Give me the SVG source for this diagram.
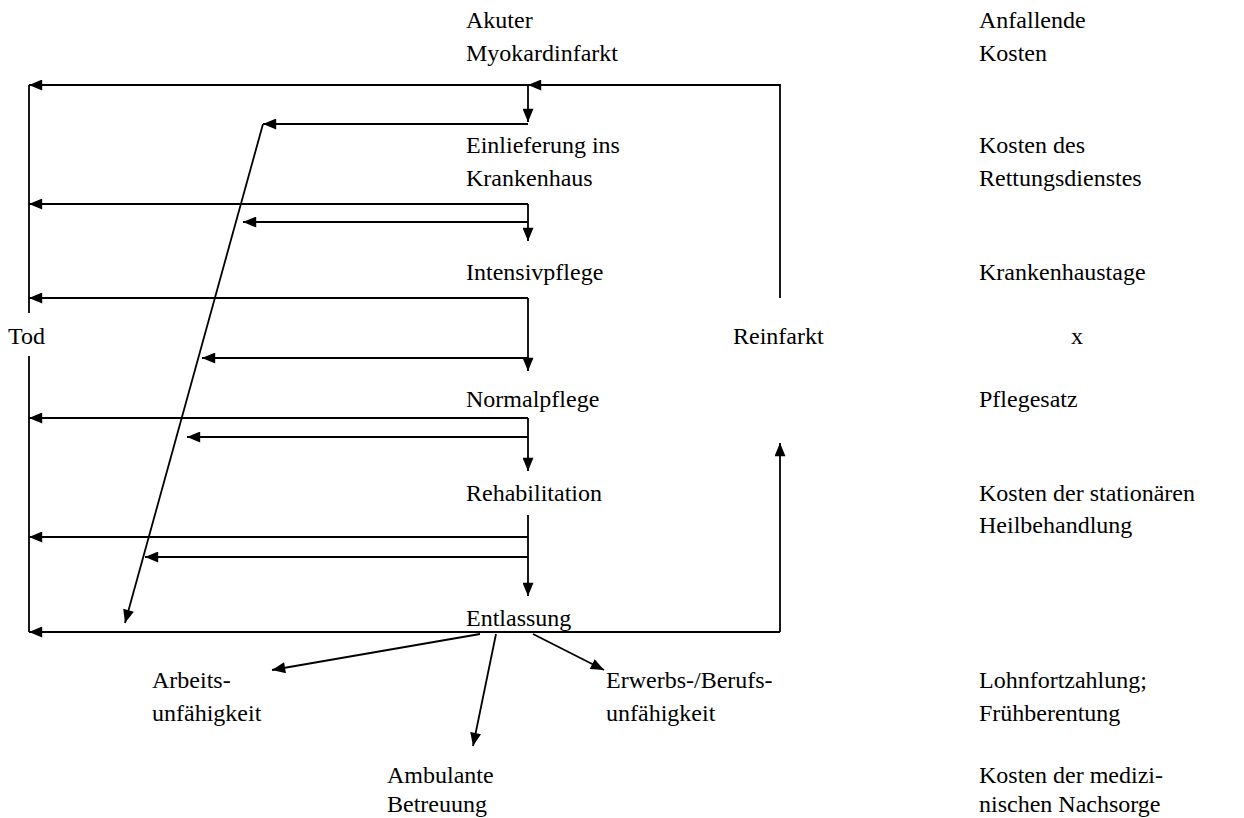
<svg xmlns="http://www.w3.org/2000/svg" width="1244" height="818" viewBox="0 0 1244 818">
<style>
.t{font-family:'Liberation Serif','Times New Roman',Times,serif;font-size:24px;fill:#000}
.c{stroke:#000;stroke-width:1.8;fill:none}
</style>
<defs>
<marker id="a" viewBox="0 0 12 10" refX="12" refY="5" markerWidth="14" markerHeight="11" markerUnits="userSpaceOnUse" orient="auto"><path d="M0,0L12,5L0,10z" fill="#000"/></marker>
</defs>
<rect width="1244" height="818" fill="#fff"/>
<g id="connectors">
<path class="c" d="M29,85V313"/>
<path class="c" d="M29,356V632"/>
<path class="c" d="M528,85H29" marker-end="url(#a)"/>
<path class="c" d="M780,298V85H528" marker-end="url(#a)"/>
<path class="c" d="M528,85V122" marker-end="url(#a)"/>
<path class="c" d="M528,124H263" marker-end="url(#a)"/>
<path class="c" d="M263,124L125,623" marker-end="url(#a)"/>
<path class="c" d="M528,204H29" marker-end="url(#a)"/>
<path class="c" d="M528,204V241" marker-end="url(#a)"/>
<path class="c" d="M528,222H243" marker-end="url(#a)"/>
<path class="c" d="M528,298H29" marker-end="url(#a)"/>
<path class="c" d="M528,298V371" marker-end="url(#a)"/>
<path class="c" d="M528,358H202" marker-end="url(#a)"/>
<path class="c" d="M528,418H29" marker-end="url(#a)"/>
<path class="c" d="M528,418V471" marker-end="url(#a)"/>
<path class="c" d="M528,437H187" marker-end="url(#a)"/>
<path class="c" d="M528,515V596" marker-end="url(#a)"/>
<path class="c" d="M528,537H29" marker-end="url(#a)"/>
<path class="c" d="M528,557H145" marker-end="url(#a)"/>
<path class="c" d="M780,632H29" marker-end="url(#a)"/>
<path class="c" d="M780,632V443" marker-end="url(#a)"/>
<path class="c" d="M480,634L272,670" marker-end="url(#a)"/>
<path class="c" d="M496,634L473,746" marker-end="url(#a)"/>
<path class="c" d="M533,634L604,670" marker-end="url(#a)"/>
</g>
<g class="t">
<g id="n-akuter"><text x="466" y="28">Akuter</text><text x="466" y="61">Myokardinfarkt</text></g>
<g id="n-anfallende"><text x="979" y="28">Anfallende</text><text x="979" y="61">Kosten</text></g>
<g id="n-einlieferung"><text x="466" y="153">Einlieferung ins</text><text x="466" y="186">Krankenhaus</text></g>
<g id="n-rettung"><text x="979" y="153">Kosten des</text><text x="979" y="186">Rettungsdienstes</text></g>
<g id="n-intensiv"><text x="466" y="280">Intensivpflege</text></g>
<g id="n-khtage"><text x="979" y="280">Krankenhaustage</text></g>
<g id="n-tod"><text x="8" y="344">Tod</text></g>
<g id="n-reinfarkt"><text x="733" y="344">Reinfarkt</text></g>
<g id="n-x"><text x="1071" y="344">x</text></g>
<g id="n-normal"><text x="466" y="407">Normalpflege</text></g>
<g id="n-pflegesatz"><text x="979" y="407">Pflegesatz</text></g>
<g id="n-reha"><text x="466" y="501">Rehabilitation</text></g>
<g id="n-stationaer"><text x="979" y="501">Kosten der stationären</text><text x="979" y="533">Heilbehandlung</text></g>
<g id="n-entlassung"><text x="466" y="626">Entlassung</text></g>
<g id="n-arbeit"><text x="152" y="688">Arbeits-</text><text x="152" y="721">unfähigkeit</text></g>
<g id="n-erwerb"><text x="606" y="688">Erwerbs-/Berufs-</text><text x="606" y="721">unfähigkeit</text></g>
<g id="n-lohn"><text x="979" y="688">Lohnfortzahlung;</text><text x="979" y="721">Frühberentung</text></g>
<g id="n-ambulant"><text x="387" y="783">Ambulante</text><text x="387" y="812">Betreuung</text></g>
<g id="n-nachsorge"><text x="979" y="783">Kosten der medizi-</text><text x="979" y="812">nischen Nachsorge</text></g>
</g>
</svg>
